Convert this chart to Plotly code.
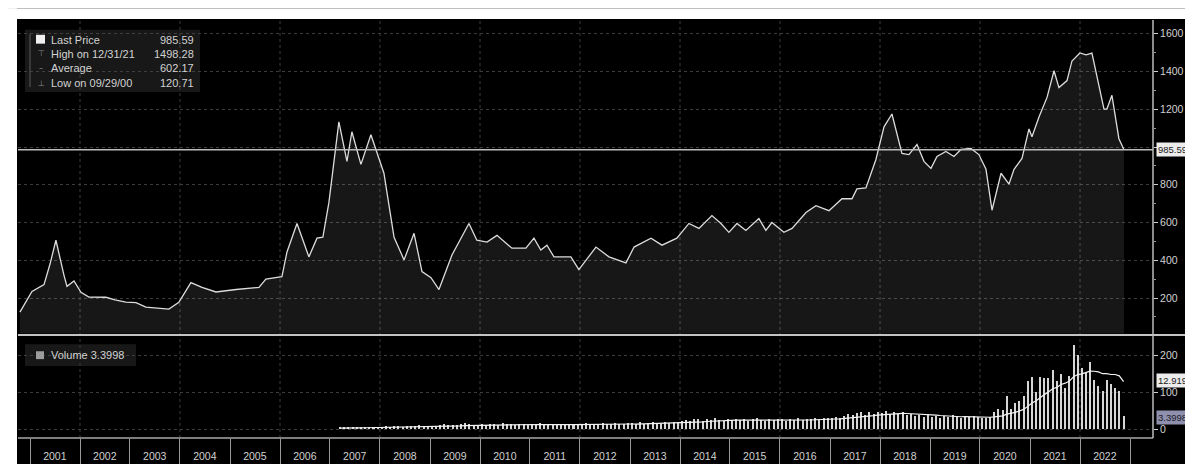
import plotly.graph_objects as go
import pandas as pd

# ---------------- DATA ----------------
price_dates = [
    "2000-10-19", "2001-01-15", "2001-04-13", "2001-05-27", "2001-07-09", "2001-08-15",
    "2001-09-06", "2001-09-28", "2001-11-18", "2002-01-08", "2002-03-07", "2002-07-09",
    "2002-09-13", "2002-12-02", "2003-02-14", "2003-04-27", "2003-07-20", "2003-10-12",
    "2003-12-24", "2004-03-21", "2004-06-10", "2004-09-20", "2005-02-14", "2005-05-27",
    "2005-07-31", "2005-09-20", "2006-01-15", "2006-02-21", "2006-05-05", "2006-07-31",
    "2006-09-28", "2006-11-10", "2006-12-24", "2007-03-07", "2007-05-05", "2007-06-10",
    "2007-08-15", "2007-10-27", "2008-01-30", "2008-04-13", "2008-06-25", "2008-09-06",
    "2008-11-03", "2009-01-08", "2009-03-07", "2009-06-10", "2009-10-12", "2009-12-09",
    "2010-02-21", "2010-05-05", "2010-08-22", "2010-12-02", "2011-01-30", "2011-03-21",
    "2011-05-05", "2011-06-25", "2011-10-27", "2011-12-24", "2012-04-27", "2012-07-31",
    "2012-12-02", "2013-01-30", "2013-06-03", "2013-08-22", "2013-12-09", "2014-03-07",
    "2014-05-19", "2014-08-22", "2014-10-27", "2014-12-24", "2015-02-21", "2015-04-27",
    "2015-07-31", "2015-09-20", "2015-11-03", "2016-01-30", "2016-03-29", "2016-07-09",
    "2016-09-20", "2016-12-24", "2017-03-29", "2017-06-10", "2017-07-16", "2017-09-20",
    "2017-12-02", "2018-01-30", "2018-03-29", "2018-06-10", "2018-07-31", "2018-09-28",
    "2018-11-18", "2019-01-08", "2019-02-21", "2019-04-27", "2019-06-25", "2019-08-15",
    "2019-10-27", "2019-12-24", "2020-02-14", "2020-03-29", "2020-06-03", "2020-07-31",
    "2020-09-06", "2020-11-03", "2020-12-24", "2021-01-15", "2021-03-07", "2021-05-05",
    "2021-06-25", "2021-07-31", "2021-09-28", "2021-11-03", "2021-12-31", "2022-02-14",
    "2022-03-29", "2022-06-25", "2022-07-16", "2022-08-22", "2022-10-12", "2022-11-18",
]
price_values = [
    125, 235, 271, 380, 506, 380,
    320, 262, 290, 230, 205, 204,
    190, 178, 176, 152, 148, 141,
    177, 282, 256, 232, 245, 250,
    256, 300, 313, 444, 595, 418,
    517, 522, 705, 1133, 924, 1081,
    908, 1065, 861, 522, 402, 543,
    340, 308, 245, 428, 595, 506,
    496, 532, 464, 464, 517, 454,
    480, 418, 418, 350, 470, 418,
    386, 470, 517, 480, 517, 595,
    569, 637, 595, 548, 595, 558,
    621, 558, 600, 548, 569, 653,
    689, 663, 726, 726, 778, 783,
    934, 1107, 1175, 966, 960, 1013,
    924, 887, 950, 976, 950, 987,
    992, 960, 882, 665, 861, 804,
    882, 940, 1096, 1054, 1159, 1263,
    1404, 1315, 1352, 1456, 1498.28, 1488,
    1498, 1201, 1201, 1274, 1044, 985.59,
]

# monthly volume, March 2007 .. November 2022
volume_start = "2007-03-01"
volume_values = [
    3, 4, 3, 5, 4, 3, 4, 5, 4, 5,                        # 2007
    5, 6, 5, 7, 6, 5, 8, 6, 7, 9, 6, 7,                  # 2008
    7, 8, 9, 12, 10, 9, 11, 13, 15, 12, 10, 11,          # 2009
    12, 10, 14, 13, 11, 15, 12, 13, 11, 14, 12, 10,      # 2010
    13, 12, 15, 11, 14, 12, 10, 13, 11, 12, 14, 13,      # 2011
    12, 15, 13, 11, 14, 16, 13, 12, 15, 14, 13, 16,      # 2012
    15, 14, 17, 13, 16, 18, 15, 14, 17, 16, 19, 18,      # 2013
    20, 24, 22, 27, 25, 21, 26, 23, 28, 24, 22, 25,      # 2014
    24, 27, 23, 26, 22, 25, 28, 24, 21, 26, 23, 27,      # 2015
    25, 22, 26, 24, 28, 23, 27, 25, 29, 26, 30, 28,      # 2016
    30, 33, 28, 35, 40, 36, 42, 45, 38, 44, 40, 46,      # 2017
    43, 48, 41, 45, 39, 44, 36, 40, 34, 38, 33, 37,      # 2018
    32, 35, 30, 34, 31, 36, 33, 30, 35, 32, 34, 31,      # 2019
    30, 29, 31, 45, 53, 50, 88, 53, 69, 75, 88, 128,     # 2020
    141, 100, 141, 136, 136, 160, 130, 149, 109, 144, 227, 200,  # 2021
    163, 150, 181, 133, 115, 101, 133, 120, 109, 101, 35,        # 2022
]
ma_window = 12

year_labels = [str(y) for y in range(2001, 2023)]
year_bounds = list(range(2001, 2024))
grid_years = list(range(2002, 2023, 2))
price_ticks = [200, 400, 600, 800, 1000, 1200, 1400, 1600]
price_tick_text = ["200", "400", "600", "800", "", "1200", "1400", "1600"]
volume_ticks = [0, 100, 200]

LAST_PRICE = 985.59
HIGH_DATE, HIGH_PRICE = "12/31/21", 1498.28
AVERAGE = 602.17
LOW_DATE, LOW_PRICE = "09/29/00", 120.71
VOLUME_LAST = "3.3998"
VOLUME_MA_LAST = "12.9198"

# ---------------- FIGURE ----------------
W, H = 1193, 464
L, R, T, B = 10, 48, 12, 28
PW, PH = W - L - R, H - T - B


def fx(px):
    return (px - L) / PW


def fy(py):
    return (H - B - py) / PH


vol_dates = pd.date_range(volume_start, periods=len(volume_values), freq="MS") + pd.Timedelta(days=14)
vol_ma = pd.Series(volume_values).rolling(ma_window, min_periods=1).mean()

FONT = "Liberation Sans"
TXT = "#d2d2d2"
GRID = "#3c3c3c"

fig = go.Figure()
fig.add_trace(go.Scatter(
    x=price_dates, y=price_values, mode="lines",
    line=dict(color="#dcdcdc", width=1.3),
    fill="tozeroy", fillcolor="rgba(255,255,255,0.09)",
    xaxis="x", yaxis="y", showlegend=False, hoverinfo="skip"))
fig.add_trace(go.Bar(
    x=vol_dates, y=volume_values, marker=dict(color="#d6d6d6", line=dict(width=0)),
    width=15 * 86400000, xaxis="x2", yaxis="y2", showlegend=False, hoverinfo="skip"))
fig.add_trace(go.Scatter(
    x=vol_dates, y=vol_ma, mode="lines", line=dict(color="#f2f2f2", width=1.2),
    xaxis="x2", yaxis="y2", showlegend=False, hoverinfo="skip"))

x_range = ["2000-10-05", "2023-06-18"]
tickfont = dict(family=FONT, size=10.5, color=TXT)

fig.update_layout(
    width=W, height=H,
    margin=dict(l=L, r=R, t=T, b=B, pad=0),
    paper_bgcolor="black", plot_bgcolor="black",
    bargap=0,
    xaxis=dict(domain=[0, 1], range=x_range, type="date", anchor="y",
               showticklabels=False, showgrid=False, zeroline=False, ticks=""),
    xaxis2=dict(domain=[0, 1], range=x_range, type="date", anchor="y2", matches="x",
                tickmode="array",
                tickvals=[f"{y}-07-01" for y in year_labels],
                ticktext=year_labels, tickfont=tickfont,
                ticks="outside", ticklen=8, tickcolor="rgba(0,0,0,0)",
                showgrid=False, zeroline=False,
                minor=dict(tickmode="array", tickvals=[f"{y}-01-01" for y in year_bounds],
                           ticks="outside", ticklen=28, tickcolor="#9a9a9a", tickwidth=1,
                           showgrid=False)),
    yaxis=dict(domain=[fy(330), 1], range=[12, 1673], side="right", anchor="x",
               tickmode="array", tickvals=price_ticks, ticktext=price_tick_text,
               ticks="outside", ticklen=4, tickcolor="#cfcfcf",
               tickfont=tickfont, showgrid=True, gridcolor=GRID, griddash="dot",
               gridwidth=1, zeroline=False, showline=False,
               minor=dict(dtick=100, tick0=0, ticks="outside", ticklen=2, tickcolor="#9a9a9a",
                          showgrid=False)),
    yaxis2=dict(domain=[0, fy(333)], range=[-24, 251], side="right", anchor="x2",
                tickmode="array", tickvals=volume_ticks,
                ticks="outside", ticklen=4, tickcolor="#cfcfcf",
                tickfont=tickfont, showgrid=True, gridcolor=GRID, griddash="dot",
                gridwidth=1, zeroline=False, showline=False),
)

shapes = []
# vertical grid every two years
for yr in grid_years:
    shapes.append(dict(type="line", xref="x", yref="paper", x0=f"{yr}-01-01", x1=f"{yr}-01-01",
                       y0=0, y1=1, line=dict(color=GRID, width=1, dash="dot"), layer="below"))
# last price line
shapes.append(dict(type="line", xref="x domain", yref="y", x0=0, x1=1, y0=LAST_PRICE, y1=LAST_PRICE,
                   line=dict(color="#bdbdbd", width=1.5)))
# panel separator and bottom line
shapes.append(dict(type="line", xref="paper", yref="paper", x0=fx(10), x1=fx(1193), y0=fy(331.5), y1=fy(331.5),
                   line=dict(color="#c4c4c4", width=2)))
shapes.append(dict(type="line", xref="paper", yref="paper", x0=fx(10), x1=fx(1145), y0=fy(436), y1=fy(436),
                   line=dict(color="#a8a8a8", width=1.5)))
# right axis line
shapes.append(dict(type="line", xref="paper", yref="paper", x0=1, x1=1, y0=fy(436), y1=1,
                   line=dict(color="#bdbdbd", width=1.5)))
# legend boxes
shapes.append(dict(type="rect", xref="paper", yref="paper", x0=fx(17), x1=fx(192), y0=fy(85), y1=fy(22),
                   fillcolor="rgba(70,70,70,0.35)", line=dict(width=0)))
shapes.append(dict(type="rect", xref="paper", yref="paper", x0=fx(17), x1=fx(128), y0=fy(363), y1=fy(341),
                   fillcolor="rgba(70,70,70,0.35)", line=dict(width=0)))
# legend icons
shapes.append(dict(type="rect", xref="paper", yref="paper", x0=fx(28), x1=fx(37), y0=fy(36), y1=fy(27),
                   fillcolor="#f0f0f0", line=dict(width=0)))
shapes.append(dict(type="rect", xref="paper", yref="paper", x0=fx(28), x1=fx(36), y0=fy(356), y1=fy(348),
                   fillcolor="#9c9c9c", line=dict(width=0)))
shapes.append(dict(type="line", xref="paper", yref="paper", x0=fx(22), x1=fx(22), y0=fy(80), y1=fy(26),
                   line=dict(color="#5a5a5a", width=1)))
# scan margins (white)
shapes.append(dict(type="rect", xref="paper", yref="paper", x0=fx(0), x1=fx(W), y0=fy(11), y1=fy(0),
                   fillcolor="white", line=dict(width=0)))
shapes.append(dict(type="rect", xref="paper", yref="paper", x0=fx(0), x1=fx(9), y0=fy(H), y1=fy(0),
                   fillcolor="white", line=dict(width=0)))
fig.update_layout(shapes=shapes)

ann = []
small = dict(family=FONT, size=11, color=TXT)
rows = [
    (32, "Last Price", f"{LAST_PRICE:.2f}", ""),
    (46, f"High on {HIGH_DATE}", f"{HIGH_PRICE:.2f}", "\u22a4"),
    (61, "Average", f"{AVERAGE:.2f}", "\u2013"),
    (76, f"Low on {LOW_DATE}", f"{LOW_PRICE:.2f}", "\u22a5"),
]
for py, label, val, icon in rows:
    ann.append(dict(xref="paper", yref="paper", x=fx(41), y=fy(py), text=label, showarrow=False,
                    xanchor="left", yanchor="middle", font=small))
    ann.append(dict(xref="paper", yref="paper", x=fx(188), y=fy(py), text=val, showarrow=False,
                    xanchor="right", yanchor="middle", font=small))
    if icon:
        ann.append(dict(xref="paper", yref="paper", x=fx(33), y=fy(py), text=icon, showarrow=False,
                        xanchor="center", yanchor="middle",
                        font=dict(family="DejaVu Sans", size=8, color="#8a8a8a")))
ann.append(dict(xref="paper", yref="paper", x=fx(41), y=fy(352), text=f"Volume {VOLUME_LAST}", showarrow=False,
                xanchor="left", yanchor="middle", font=small))
# right-side value tags
tagfont = dict(family=FONT, size=9.5, color="#1a1a1a")
ann.append(dict(xref="paper", yref="y", x=fx(1148), y=LAST_PRICE, text=f"{LAST_PRICE:.2f}", showarrow=False,
                xanchor="left", yanchor="middle", bgcolor="#ececec", borderpad=1, font=tagfont))
ann.append(dict(xref="paper", yref="paper", x=fx(1148), y=fy(378), text=VOLUME_MA_LAST, showarrow=False,
                xanchor="left", yanchor="middle", bgcolor="#ececec", borderpad=1, font=tagfont))
ann.append(dict(xref="paper", yref="paper", x=fx(1148), y=fy(415), text=VOLUME_LAST, showarrow=False,
                xanchor="left", yanchor="middle", bgcolor="#8f90ad", borderpad=1,
                font=dict(family=FONT, size=9.5, color="#1a1a2a")))
fig.update_layout(annotations=ann)

fig.write_html("out.html")
